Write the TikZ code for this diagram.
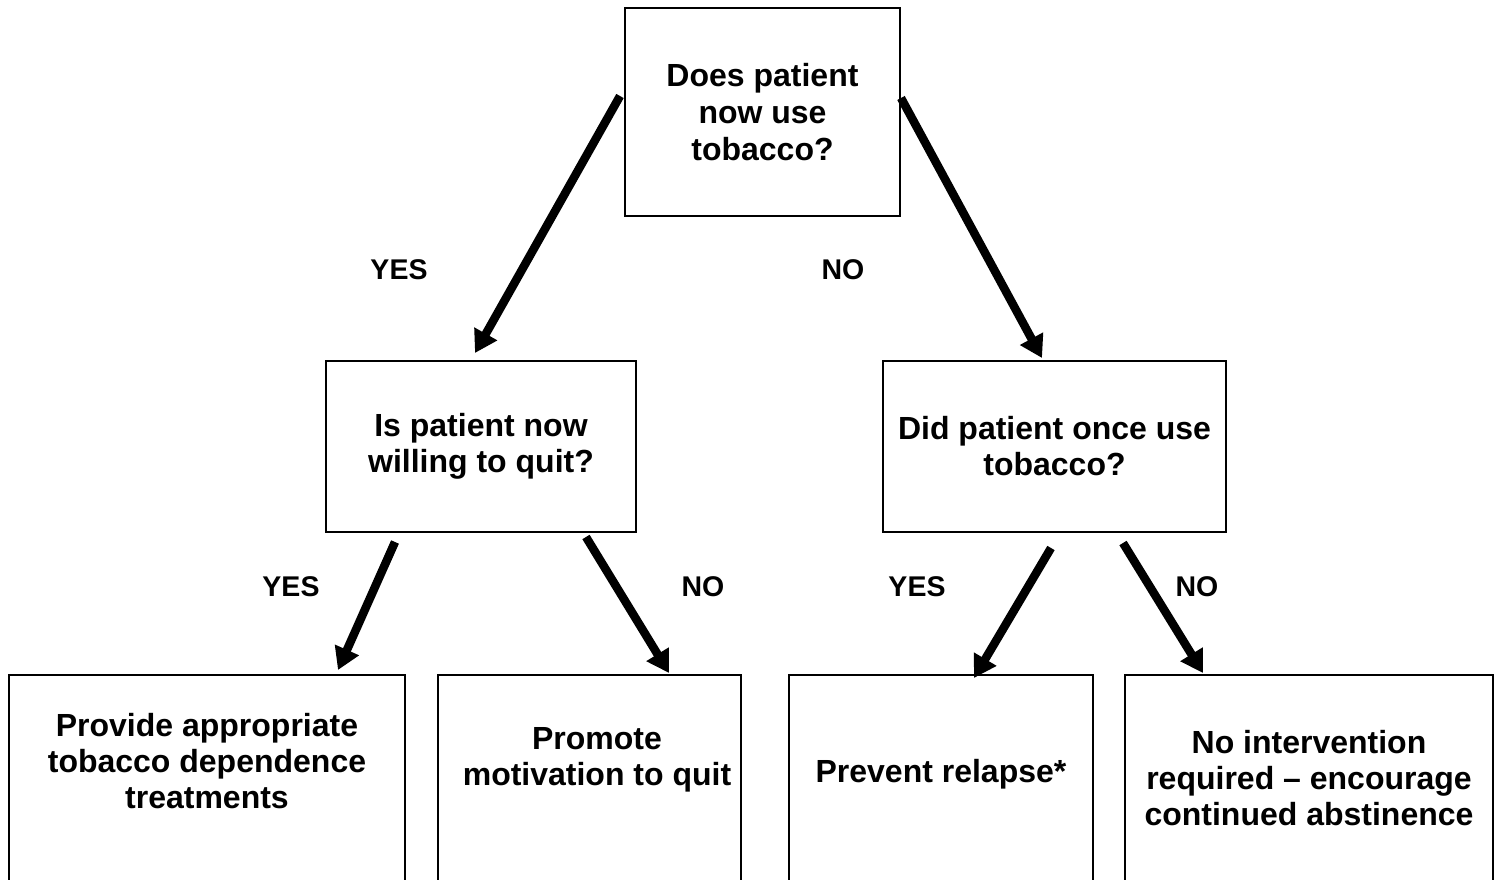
\documentclass[tikz,border=0pt]{standalone}
\usepackage{fontspec}
\setmainfont{Liberation Sans}
\usetikzlibrary{arrows.meta}
\tikzset{
  box/.style={draw, line width=2pt, inner sep=0pt, align=center},
  boxtext/.style={align=center, font=\fontsize{32}{36}\selectfont\bfseries, inner sep=0pt},
  lbl/.style={font=\fontsize{28.5}{32}\selectfont\bfseries, inner sep=0pt},
  conn/.style={line width=8.5pt, -{Triangle[length=22pt,width=25pt]}}
}
\begin{document}
\begin{tikzpicture}[x=1pt,y=-1pt]
\useasboundingbox (0,0) rectangle (1501,880);
% boxes
\node[box, minimum width=275pt, minimum height=208pt, font=\fontsize{32}{37}\selectfont\bfseries] (q1) at (762.5,112) {Does patient\\now use\\tobacco?};
\node[box, minimum width=310pt, minimum height=171pt, font=\fontsize{32}{36}\selectfont\bfseries] (q2) at (481,446.5) {Is patient now\\willing to quit?};
\node[box, minimum width=343pt, minimum height=171pt, font=\fontsize{32}{36}\selectfont\bfseries] (q3) at (1054.5,446.5) {Did patient once use\\tobacco?};
\node[box, minimum width=396pt, minimum height=210pt] (b1) at (207,780) {};
\node[box, minimum width=303pt, minimum height=210pt] (b2) at (589.5,780) {};
\node[box, minimum width=304pt, minimum height=210pt] (b3) at (941,780) {};
\node[box, minimum width=368pt, minimum height=210pt] (b4) at (1309,780) {};
\node[boxtext] (t1) at (207,761) {Provide appropriate\\tobacco dependence\\treatments};
\node[boxtext] (t2) at (597,760) {Promote\\motivation to quit};
\node[boxtext] (t3) at (941,774) {Prevent relapse*};
\node[boxtext] (t4) at (1309,778) {No intervention\\required -- encourage\\continued abstinence};
% connector end points
\coordinate (s1) at (620,96);
\coordinate (e1) at (475,353);
\coordinate (s2) at (901,98);
\coordinate (e2) at (1042,358);
\coordinate (s3) at (395,542);
\coordinate (e3) at (338,670);
\coordinate (s4) at (586,537);
\coordinate (e4) at (669,673);
\coordinate (s5) at (1051,548);
\coordinate (e5) at (974,678);
\coordinate (s6) at (1123,543);
\coordinate (e6) at (1203,673);
\draw[conn] (s1) -- (e1);
\draw[conn] (s2) -- (e2);
\draw[conn] (s3) -- (e3);
\draw[conn] (s4) -- (e4);
\draw[conn] (s5) -- (e5);
\draw[conn] (s6) -- (e6);
% labels
\node[lbl] (l1) at (399,270) {YES};
\node[lbl] (l2) at (843,270) {NO};
\node[lbl] (l3) at (291,587) {YES};
\node[lbl] (l4) at (703,587) {NO};
\node[lbl] (l5) at (917,587) {YES};
\node[lbl] (l6) at (1197,587) {NO};
\end{tikzpicture}
\end{document}
